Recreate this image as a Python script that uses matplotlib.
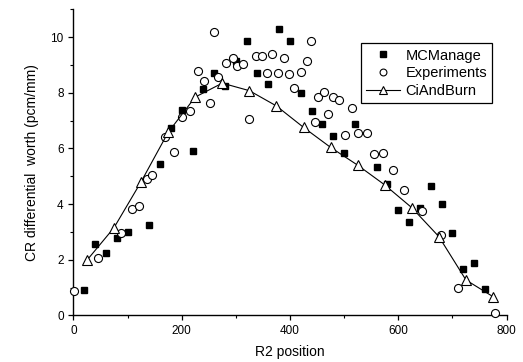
import matplotlib
matplotlib.use('Agg')
import matplotlib.pyplot as plt
from matplotlib.ticker import MultipleLocator

plt.rcParams['font.family'] = ['Liberation Sans', 'DejaVu Sans']

# MCManage (filled squares)
mc_x = [20, 40, 60, 80, 100, 140, 160, 180, 200, 220, 240, 260, 280, 300,
        320, 340, 360, 380, 400, 420, 440, 460, 480, 500, 520, 560, 580,
        600, 620, 640, 660, 680, 700, 720, 740, 760]
mc_y = [0.9, 2.55, 2.23, 2.79, 3.0, 3.24, 5.44, 6.75, 7.4, 5.91, 8.13, 8.73,
        8.25, 9.15, 9.86, 8.72, 8.31, 10.3, 9.86, 7.98, 7.36, 6.89, 6.45,
        5.84, 6.89, 5.35, 4.73, 3.8, 3.35, 3.86, 4.65, 4.0, 2.95, 1.65,
        1.89, 0.95]

# Experiments (open circles)
exp_x = [1, 46, 88, 109, 122, 136, 146, 170, 185, 201, 215, 230, 241, 252,
         260, 267, 281, 294, 302, 313, 325, 338, 349, 357, 367, 378, 389,
         399, 408, 420, 431, 439, 446, 451, 462, 470, 480, 491, 502, 515,
         526, 542, 556, 572, 590, 611, 643, 678, 710, 778]
exp_y = [0.88, 2.06, 2.97, 3.82, 3.94, 4.9, 5.05, 6.4, 5.89, 7.15, 7.35,
         8.79, 8.44, 7.65, 10.2, 8.56, 9.09, 9.26, 8.96, 9.05, 7.07, 9.34,
         9.34, 8.72, 9.41, 8.72, 9.27, 8.67, 8.16, 8.76, 9.15, 9.86, 6.96,
         7.86, 8.02, 7.23, 7.86, 7.74, 6.49, 7.45, 6.55, 6.57, 5.8, 5.83,
         5.22, 4.52, 3.75, 2.89, 0.99, 0.1]

# CiAndBurn (line with open triangles)
ci_x = [25, 75, 125, 175, 225, 275, 325, 375, 425, 475, 525, 575, 625,
        675, 725, 775]
ci_y = [1.98, 3.15, 4.8, 6.58, 7.85, 8.35, 8.08, 7.53, 6.76, 6.04, 5.4,
        4.69, 3.87, 2.83, 1.27, 0.67]

fig = plt.figure(figsize=(5.23, 3.62), dpi=100)
ax = fig.add_axes([0.1403, 0.129, 0.8283, 0.8448])

ax.plot(mc_x, mc_y, 's', color='black', markersize=5, linestyle='none',
        label='MCManage', clip_on=False, zorder=3)
ax.plot(exp_x, exp_y, 'o', markerfacecolor='white', markeredgecolor='black',
        markeredgewidth=0.8, markersize=5.8, linestyle='none',
        label='Experiments', clip_on=False, zorder=4)
ax.plot(ci_x, ci_y, '-^', color='black', lw=0.8, markerfacecolor='white',
        markeredgecolor='black', markeredgewidth=0.8, markersize=6.5,
        label='CiAndBurn', clip_on=False, zorder=5)

ax.set_xlim(0, 800)
ax.set_ylim(0, 11)
ax.xaxis.set_major_locator(MultipleLocator(200))
ax.xaxis.set_minor_locator(MultipleLocator(100))
ax.yaxis.set_major_locator(MultipleLocator(2))
ax.yaxis.set_minor_locator(MultipleLocator(1))
for s in ['top', 'right']:
    ax.spines[s].set_visible(False)
for s in ['left', 'bottom']:
    ax.spines[s].set_linewidth(1.0)
ax.tick_params(which='major', direction='out', length=3.5, width=0.9,
               labelsize=8.5)
ax.tick_params(which='minor', direction='out', length=2, width=0.8)

ax.set_xlabel('R2 position', fontsize=10, labelpad=6)
ax.set_ylabel('CR differential  worth (pcm/mm)', fontsize=10, labelpad=8)

leg = ax.legend(loc='upper right', bbox_to_anchor=(0.967, 0.889),
                borderaxespad=0, fontsize=10.5, frameon=True, fancybox=False,
                edgecolor='black', framealpha=1, handlelength=2.3,
                handletextpad=0.4, labelspacing=0.25, borderpad=0.35,
                markerscale=0.85)
leg.get_frame().set_linewidth(0.9)

fig.savefig('out.png', dpi=100, facecolor='white')
